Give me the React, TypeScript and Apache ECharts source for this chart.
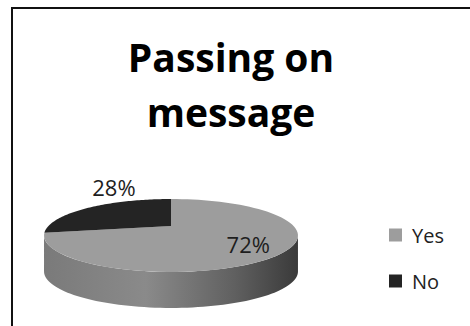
import React, { useEffect, useRef } from 'react';
import * as echarts from 'echarts';

// ---- data ----
const categories: string[] = ['Yes', 'No'];
const values: number[] = [72, 28];
const titleLines: string[] = ['Passing on', 'message'];

// ---- style ----
const COLORS = ['#9d9d9d', '#242424'];
const FONT = '"Open Sans", "Liberation Sans", sans-serif';

// perspective projection of the pie disc
const CX = 171;
const CY = 226;
const A = 122.6;
const B = 34;
const K = 0.26;
const H = 36;
const TR = Math.acos(-K); // right silhouette angle (clockwise from top)
const TL = 2 * Math.PI - Math.acos(-K); // left silhouette angle
const LABEL_R = [0.72, 1];
const LABEL_SHIFT = [
  [0, 0],
  [24, -20],
];

function project(theta: number, r: number, dy = 0): number[] {
  const u = r * Math.sin(theta);
  const v = -r * Math.cos(theta);
  const w = 1 - K * v;
  return [CX + (A * u) / w, CY + (B * v) / w + dy];
}

function sliceRange(i: number): number[] {
  const total = values.reduce((a, b) => a + b, 0);
  let start = 0;
  for (let j = 0; j < i; j++) start += values[j];
  return [(start / total) * 2 * Math.PI, ((start + values[i]) / total) * 2 * Math.PI];
}

const sideGradient = {
  type: 'linear',
  x: 44,
  y: 0,
  x2: 298,
  y2: 0,
  global: true,
  colorStops: [
    { offset: 0, color: '#7a7a7a' },
    { offset: 0.4, color: '#8a8a8a' },
    { offset: 0.75, color: '#606060' },
    { offset: 1, color: '#3a3a3a' },
  ],
};

function makeRenderItem(i: number) {
  return (params: any, api: any) => {
    const [a0, a1] = sliceRange(i);
    const total = values.reduce((a, b) => a + b, 0);
    const pct = Math.round((api.value(0) / total) * 100) + '%';
    const n = 80;
    const children: any[] = [];
    const s0 = Math.max(a0, TR);
    const s1 = Math.min(a1, TL);
    if (s1 > s0) {
      const pts: number[][] = [];
      for (let k = 0; k <= n; k++) pts.push(project(s0 + ((s1 - s0) * k) / n, 1));
      for (let k = n; k >= 0; k--) pts.push(project(s0 + ((s1 - s0) * k) / n, 1, H));
      children.push({
        type: 'polygon',
        shape: { points: pts },
        style: { fill: sideGradient, stroke: 'none' },
        z2: 1,
      });
    }
    const top: number[][] = [[CX, CY]];
    for (let k = 0; k <= n; k++) top.push(project(a0 + ((a1 - a0) * k) / n, 1));
    children.push({
      type: 'polygon',
      shape: { points: top },
      style: { fill: COLORS[i], stroke: 'none' },
      z2: 5,
    });
    const mid = (a0 + a1) / 2;
    const lp = project(mid, LABEL_R[i]);
    children.push({
      type: 'text',
      z2: 10,
      style: {
        text: pct,
        x: lp[0] + LABEL_SHIFT[i][0],
        y: lp[1] + LABEL_SHIFT[i][1],
        fill: '#1e1e1e',
        fontSize: 22,
        fontFamily: FONT,
        textAlign: 'center',
        textVerticalAlign: 'middle',
        align: 'center',
        verticalAlign: 'middle',
      },
    });
    return { type: 'group', children };
  };
}

export default function App() {
  const ref = useRef<HTMLDivElement>(null);
  useEffect(() => {
    if (!ref.current) return;
    const chart = echarts.init(ref.current, undefined, { renderer: 'svg' });
    chart.setOption({
      animation: false,
      backgroundColor: '#ffffff',
      legend: {
        orient: 'vertical',
        left: 384,
        top: 220,
        itemWidth: 13,
        itemHeight: 13,
        itemGap: 26,
        icon: 'rect',
        data: categories,
        textStyle: { fontSize: 20, fontFamily: FONT, color: '#222', padding: [0, 0, 0, 5] },
      },
      graphic: [
        {
          type: 'rect',
          shape: { x: 12, y: 8, width: 500, height: 400 },
          style: { fill: 'none', stroke: '#111', lineWidth: 2 },
          silent: true,
        },
        ...titleLines.map((t, k) => ({
          type: 'text',
          x: 231,
          y: k === 0 ? 56 : 111,
          style: {
            text: t,
            fontSize: 39,
            fontWeight: 'bold',
            fontFamily: FONT,
            fill: '#000',
            textAlign: 'center',
            textVerticalAlign: 'middle',
            align: 'center',
            verticalAlign: 'middle',
          },
        })),
      ],
      series: categories.map((name, i) => ({
        type: 'custom',
        name,
        coordinateSystem: 'none',
        itemStyle: { color: COLORS[i] },
        data: [values[i]],
        renderItem: makeRenderItem(i),
      })),
    });
    return () => chart.dispose();
  }, []);
  return (
    <div
      ref={ref}
      style={{ position: 'fixed', left: 0, top: 0, width: 470, height: 326, background: '#fff' }}
    />
  );
}
